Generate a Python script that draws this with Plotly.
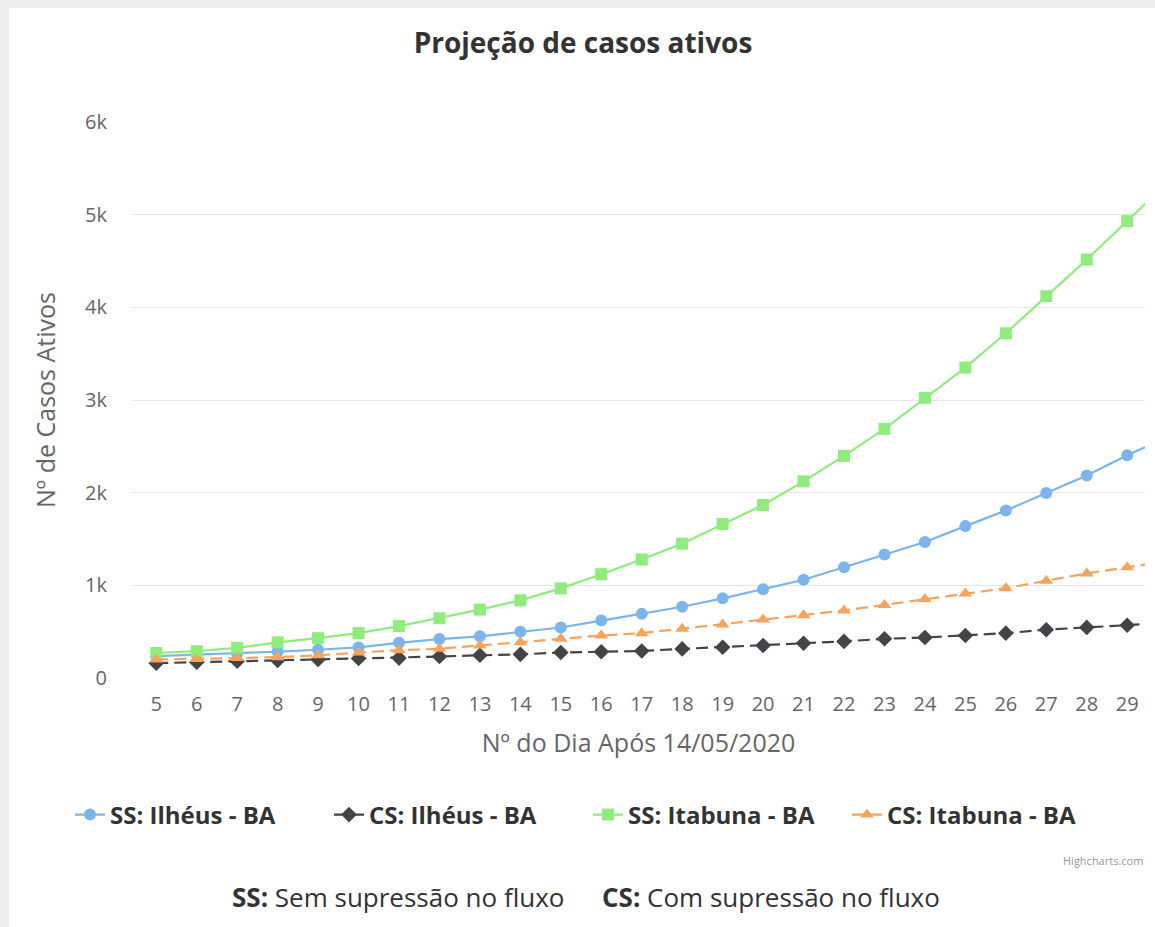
import plotly.graph_objects as go

# ---- data ----
days = list(range(5, 31))
ss_ilheus = [235, 250, 265, 285, 305, 330, 380, 420, 450, 498, 545, 620, 692, 769, 860, 958,
             1060, 1195, 1333, 1468, 1639, 1807, 1997, 2186, 2404, 2600]
cs_ilheus = [160, 170, 180, 190, 200, 210, 215, 232, 245, 255, 275, 284, 292, 314, 332, 350,
             375, 395, 423, 437, 459, 484, 521, 546, 570, 595]
ss_itabuna = [270, 290, 325, 385, 430, 485, 560, 645, 738, 838, 967, 1120, 1279, 1450, 1661, 1867,
              2122, 2397, 2689, 3024, 3350, 3720, 4120, 4515, 4930, 5350]
cs_itabuna = [200, 205, 215, 225, 245, 275, 300, 315, 350, 386, 423, 459, 484, 532, 576, 630,
              678, 729, 787, 849, 911, 969, 1049, 1129, 1195, 1260]

series_names = ["SS: Ilhéus - BA", "CS: Ilhéus - BA", "SS: Itabuna - BA", "CS: Itabuna - BA"]
y_tick_vals = [0, 1000, 2000, 3000, 4000, 5000, 6000]
y_tick_text = ["0", "1k", "2k", "3k", "4k", "5k", "6k"]
x_tick_vals = list(range(5, 30))

W, H = 1155, 927
L, R, T, B = 132, 10, 122, 249
pw, ph = W - L - R, H - T - B

def px(x):
    return (x - L) / pw

def py(y):
    return (H - B - y) / ph

FONT = "Open Sans"

fig = go.Figure()
styles = [
    dict(color="#7cb5ec", symbol="circle", size=12, dash="solid"),
    dict(color="#434348", symbol="diamond", size=12, dash="12px,6px"),
    dict(color="#90ed7d", symbol="square", size=12, dash="solid"),
    dict(color="#f7a35c", symbol="triangle-up", size=12, dash="12px,6px"),
]
for name, vals, st in zip(series_names, [ss_ilheus, cs_ilheus, ss_itabuna, cs_itabuna], styles):
    fig.add_trace(go.Scatter(
        x=days, y=vals, name=name, mode="lines+markers",
        line=dict(color=st["color"], width=2.2, dash=st["dash"]),
        marker=dict(color=st["color"], symbol=st["symbol"], size=st["size"], line=dict(width=0)),
        cliponaxis=True,
    ))

fig.update_layout(
    width=W, height=H,
    margin=dict(l=L, r=R, t=T, b=B),
    paper_bgcolor="white", plot_bgcolor="white",
    font=dict(family=FONT, color="#666666"),
    title=dict(text="<b>Projeção de casos ativos</b>", x=583 / W, xref="container", xanchor="center",
               y=1 - 43 / H, yref="container", yanchor="middle",
               font=dict(family=FONT, size=28, color="#333333")),
    showlegend=True,
    legend=dict(orientation="h", x=px(70), xanchor="left", y=py(815), yanchor="middle",
                entrywidth=214, entrywidthmode="pixels",
                font=dict(family=FONT, size=24, color="#333333", weight="bold"),
                bgcolor="rgba(0,0,0,0)", itemclick=False),
    xaxis=dict(range=[4.4, 29.44], tickvals=x_tick_vals, tickmode="array",
               showgrid=False, zeroline=False, showline=False, ticks="",
               tickfont=dict(family=FONT, size=20, color="#666666"), ticklabelstandoff=12,
               title=dict(text="Nº do Dia Após 14/05/2020", standoff=18,
                          font=dict(family=FONT, size=25, color="#666666"))),
    yaxis=dict(range=[0, 6000], tickvals=y_tick_vals, ticktext=y_tick_text, tickmode="array",
               showgrid=True, gridcolor="#e6e6e6", gridwidth=1, zeroline=False, showline=False,
               ticks="", tickfont=dict(family=FONT, size=20, color="#666666"), ticklabelstandoff=24,
               title=dict(text="Nº de Casos Ativos", standoff=22,
                          font=dict(family=FONT, size=25, color="#666666"))),
)

# grey hatched-like border strips (left and top)
fig.add_shape(type="rect", xref="paper", yref="paper", x0=px(0), x1=px(9), y0=py(H), y1=py(0),
              fillcolor="#ededed", line=dict(width=0), layer="below")
fig.add_shape(type="rect", xref="paper", yref="paper", x0=px(0), x1=px(W), y0=py(8), y1=py(0),
              fillcolor="#ededed", line=dict(width=0), layer="below")

fig.add_annotation(text="Highcharts.com", xref="paper", yref="paper", x=px(1145), y=py(860),
                   xanchor="right", yanchor="middle", showarrow=False,
                   font=dict(family=FONT, size=11, color="#999999"))
fig.add_annotation(text="<b>SS:</b> Sem supressão no fluxo", xref="paper", yref="paper",
                   x=px(230), y=py(897), xanchor="left", yanchor="middle", showarrow=False,
                   font=dict(family=FONT, size=26, color="#333333"))
fig.add_annotation(text="<b>CS:</b> Com supressão no fluxo", xref="paper", yref="paper",
                   x=px(600), y=py(897), xanchor="left", yanchor="middle", showarrow=False,
                   font=dict(family=FONT, size=26, color="#333333"))

fig.write_html("out.html", config={"displayModeBar": False},
               post_script="document.body.style.margin='0';document.body.style.overflow='hidden';")
